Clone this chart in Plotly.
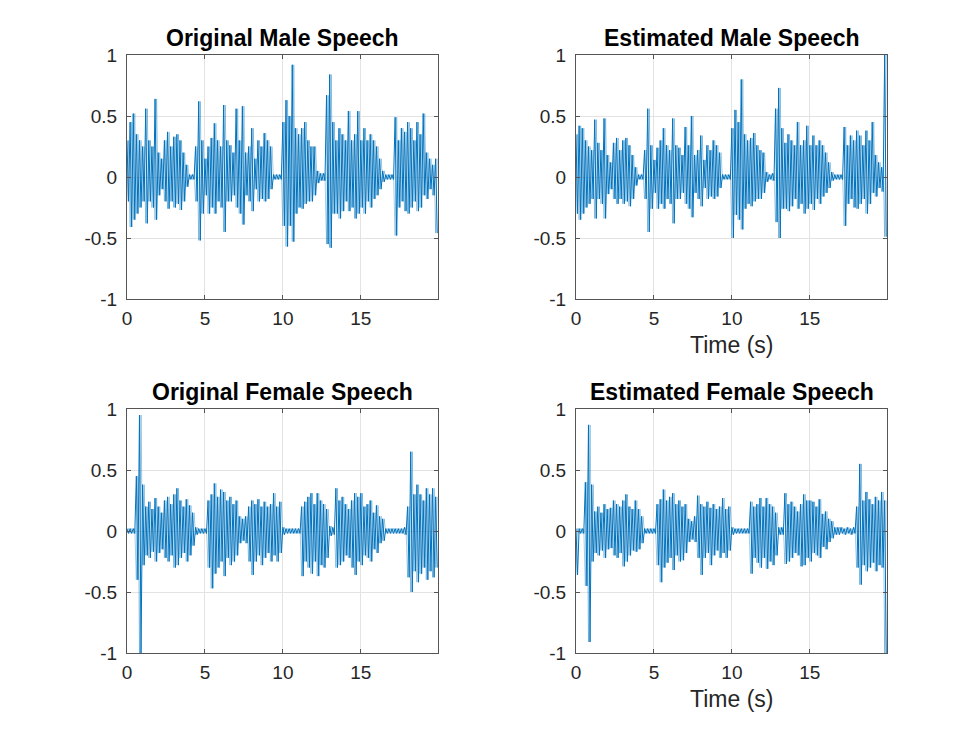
import numpy as np
import plotly.graph_objects as go

# time grid of the read-off peaks (s), one upper and one lower peak per 0.2 s window
t_start = np.round(np.arange(0, 20, 0.2), 2)

# ---- Original Male Speech ----
om_up = [0.30,0.45,0.52,0.35,0.30,0.25,0.56,0.30,0.25,0.64,
         0.20,0.15,0.30,0.37,0.25,0.33,0.35,0.30,0.20,0.10,
         0.02,0.02,0.25,0.62,0.30,0.15,0.25,0.32,0.44,0.30,
         0.25,0.59,0.30,0.26,0.20,0.56,0.30,0.58,0.20,0.25,
         0.40,0.15,0.30,0.25,0.36,0.30,0.25,0.02,0.02,0.02,
         0.45,0.63,0.50,0.92,0.40,0.35,0.40,0.45,0.30,0.25,
         0.25,0.05,0.03,0.03,0.67,0.84,0.45,0.30,0.40,0.35,
         0.30,0.54,0.30,0.35,0.54,0.30,0.40,0.30,0.35,0.30,
         0.25,0.15,0.05,0.02,0.02,0.02,0.49,0.30,0.40,0.37,
         0.45,0.40,0.30,0.45,0.35,0.52,0.20,0.15,0.10,0.15]
om_lo = [-0.20,-0.41,-0.35,-0.30,-0.25,-0.20,-0.38,-0.20,-0.25,-0.35,
         -0.15,-0.10,-0.20,-0.26,-0.20,-0.25,-0.22,-0.27,-0.20,-0.08,
         -0.02,-0.02,-0.20,-0.52,-0.30,-0.15,-0.30,-0.25,-0.30,-0.20,
         -0.25,-0.45,-0.20,-0.20,-0.15,-0.25,-0.30,-0.39,-0.15,-0.20,
         -0.28,-0.10,-0.20,-0.18,-0.20,-0.18,-0.10,-0.02,-0.02,-0.02,
         -0.40,-0.57,-0.40,-0.53,-0.30,-0.25,-0.26,-0.22,-0.20,-0.20,
         -0.15,-0.05,-0.03,-0.03,-0.55,-0.58,-0.30,-0.30,-0.34,-0.28,
         -0.20,-0.28,-0.25,-0.34,-0.30,-0.25,-0.30,-0.20,-0.25,-0.18,
         -0.15,-0.10,-0.04,-0.02,-0.02,-0.02,-0.48,-0.25,-0.20,-0.28,
         -0.30,-0.25,-0.20,-0.28,-0.25,-0.15,-0.18,-0.10,-0.15,-0.46]

# ---- Estimated Male Speech ----
em_up = [0.35,0.42,0.40,0.30,0.25,0.22,0.47,0.28,0.22,0.48,
         0.18,0.12,0.28,0.32,0.22,0.30,0.32,0.26,0.18,0.08,
         0.02,0.02,0.22,0.56,0.26,0.14,0.24,0.30,0.40,0.26,
         0.22,0.48,0.26,0.24,0.18,0.41,0.26,0.50,0.18,0.22,
         0.34,0.14,0.26,0.22,0.30,0.26,0.20,0.02,0.02,0.02,
         0.40,0.55,0.45,0.80,0.35,0.30,0.32,0.36,0.26,0.22,
         0.20,0.04,0.02,0.03,0.56,0.73,0.40,0.28,0.35,0.30,
         0.26,0.45,0.26,0.30,0.42,0.26,0.34,0.26,0.30,0.26,
         0.20,0.12,0.04,0.02,0.02,0.02,0.41,0.26,0.34,0.30,
         0.38,0.34,0.26,0.38,0.30,0.45,0.18,0.12,0.08,1.00]
em_lo = [-0.30,-0.35,-0.30,-0.25,-0.22,-0.18,-0.34,-0.18,-0.22,-0.34,
         -0.14,-0.10,-0.18,-0.22,-0.18,-0.22,-0.20,-0.24,-0.18,-0.07,
         -0.02,-0.02,-0.18,-0.45,-0.26,-0.13,-0.26,-0.22,-0.26,-0.18,
         -0.22,-0.38,-0.18,-0.18,-0.13,-0.22,-0.26,-0.33,-0.13,-0.18,
         -0.24,-0.09,-0.18,-0.16,-0.18,-0.16,-0.09,-0.02,-0.02,-0.02,
         -0.50,-0.31,-0.35,-0.43,-0.26,-0.22,-0.24,-0.20,-0.18,-0.18,
         -0.13,-0.04,-0.02,-0.03,-0.37,-0.50,-0.26,-0.26,-0.28,-0.24,
         -0.18,-0.26,-0.22,-0.30,-0.26,-0.22,-0.27,-0.18,-0.22,-0.16,
         -0.13,-0.09,-0.03,-0.02,-0.02,-0.02,-0.40,-0.22,-0.18,-0.25,
         -0.26,-0.22,-0.18,-0.30,-0.22,-0.13,-0.16,-0.09,-0.12,-0.49]

# ---- Original Female Speech ----
of_up = [0.02,0.02,0.02,0.45,0.95,0.38,0.20,0.24,0.18,0.27,
         0.20,0.15,0.25,0.28,0.22,0.30,0.35,0.25,0.20,0.26,
         0.21,0.15,0.03,0.02,0.02,0.02,0.25,0.30,0.39,0.28,
         0.34,0.32,0.25,0.28,0.22,0.25,0.12,0.10,0.12,0.20,
         0.25,0.22,0.26,0.20,0.24,0.20,0.22,0.31,0.20,0.24,
         0.03,0.02,0.02,0.02,0.02,0.02,0.20,0.24,0.28,0.31,
         0.22,0.31,0.25,0.22,0.18,0.04,0.03,0.35,0.25,0.28,
         0.22,0.18,0.25,0.31,0.28,0.31,0.20,0.22,0.25,0.15,
         0.21,0.12,0.10,0.02,0.02,0.02,0.02,0.02,0.02,0.03,
         0.20,0.65,0.30,0.38,0.30,0.25,0.35,0.30,0.35,0.28]
of_lo = [-0.02,-0.02,-0.02,-0.40,-1.00,-0.28,-0.20,-0.22,-0.17,-0.25,
         -0.18,-0.15,-0.22,-0.25,-0.20,-0.30,-0.28,-0.22,-0.18,-0.25,
         -0.20,-0.12,-0.03,-0.02,-0.02,-0.02,-0.30,-0.47,-0.35,-0.30,
         -0.25,-0.37,-0.22,-0.28,-0.25,-0.20,-0.10,-0.08,-0.10,-0.25,
         -0.36,-0.25,-0.20,-0.28,-0.22,-0.18,-0.25,-0.20,-0.25,-0.18,
         -0.03,-0.02,-0.02,-0.02,-0.02,-0.02,-0.37,-0.25,-0.30,-0.35,
         -0.25,-0.37,-0.28,-0.30,-0.22,-0.04,-0.03,-0.30,-0.28,-0.25,
         -0.20,-0.22,-0.30,-0.36,-0.25,-0.28,-0.20,-0.22,-0.25,-0.15,
         -0.18,-0.10,-0.08,-0.02,-0.02,-0.02,-0.02,-0.02,-0.02,-0.03,
         -0.38,-0.50,-0.33,-0.42,-0.35,-0.30,-0.40,-0.33,-0.38,-0.30]

# ---- Estimated Female Speech ----
ef_up = [0.02,0.02,0.02,0.40,0.87,0.38,0.16,0.20,0.15,0.22,
         0.18,0.19,0.25,0.22,0.20,0.25,0.30,0.20,0.18,0.25,
         0.18,0.12,0.02,0.02,0.02,0.02,0.22,0.26,0.34,0.25,
         0.28,0.31,0.22,0.25,0.20,0.22,0.10,0.08,0.12,0.29,
         0.22,0.20,0.24,0.19,0.22,0.18,0.20,0.27,0.18,0.20,
         0.03,0.02,0.02,0.02,0.02,0.02,0.24,0.20,0.22,0.27,
         0.20,0.27,0.22,0.20,0.15,0.03,0.03,0.31,0.22,0.24,
         0.20,0.16,0.22,0.30,0.25,0.25,0.24,0.20,0.26,0.14,
         0.16,0.10,0.08,0.03,0.03,0.03,0.02,0.03,0.02,0.03,
         0.20,0.55,0.25,0.32,0.26,0.22,0.28,0.25,0.32,0.25]
ef_lo = [-0.36,-0.02,-0.02,-0.45,-0.91,-0.25,-0.18,-0.20,-0.16,-0.22,
         -0.15,-0.14,-0.20,-0.22,-0.18,-0.29,-0.25,-0.20,-0.16,-0.17,
         -0.15,-0.10,-0.02,-0.02,-0.02,-0.02,-0.28,-0.42,-0.30,-0.26,
         -0.22,-0.32,-0.20,-0.25,-0.24,-0.18,-0.09,-0.07,-0.09,-0.22,
         -0.36,-0.22,-0.18,-0.28,-0.20,-0.16,-0.22,-0.18,-0.22,-0.16,
         -0.03,-0.02,-0.02,-0.02,-0.02,-0.02,-0.35,-0.22,-0.26,-0.30,
         -0.22,-0.31,-0.25,-0.28,-0.20,-0.03,-0.03,-0.27,-0.25,-0.22,
         -0.18,-0.20,-0.29,-0.28,-0.22,-0.25,-0.18,-0.20,-0.22,-0.13,
         -0.15,-0.09,-0.06,-0.03,-0.03,-0.02,-0.03,-0.02,-0.03,-0.02,
         -0.30,-0.44,-0.28,-0.33,-0.30,-0.26,-0.33,-0.28,-0.30,-1.00]

titles = ["Original Male Speech", "Estimated Male Speech",
          "Original Female Speech", "Estimated Female Speech"]
x_ticks = [0, 5, 10, 15]
y_ticks = [-1, -0.5, 0, 0.5, 1]
y_tick_text = ["-1", "-0.5", "0", "0.5", "1"]
x_label = "Time (s)"


def interleave(first, second):
    xs, ys = [], []
    for t0, a, b in zip(t_start, first, second):
        xs += [t0, t0 + 0.1]
        ys += [a, b]
    return xs, ys

W, H = 980, 735
doms_x = [(127 / W, 438 / W), (576 / W, 887 / W)]
doms_y = [(1 - 299 / H, 1 - 55 / H), (1 - 653 / H, 1 - 409 / H)]

series = [(om_up, om_lo), (em_up, em_lo), (of_up, of_lo), (ef_up, ef_lo)]

fig = go.Figure()
FONT = "Liberation Sans, Arial, sans-serif"
ax_col = "#262626"
annotations = []
for k, (up, lo) in enumerate(series):
    r, c = divmod(k, 2)
    idx = "" if k == 0 else str(k + 1)
    # the same peaks drawn down->up (faint) and up->down (solid) inside each window
    for first, second, col, w in ((lo, up, "rgba(0,114,189,0.45)", 0.8),
                                  (up, lo, "#0072BD", 1.0)):
        xs, ys = interleave(first, second)
        fig.add_trace(go.Scatter(x=xs, y=ys, mode="lines",
                                 line=dict(color=col, width=w),
                                 xaxis="x" + idx, yaxis="y" + idx,
                                 showlegend=False, hoverinfo="skip"))
    common = dict(showline=True, linecolor="#555555", linewidth=1, mirror="ticks",
                  ticks="inside", ticklen=4, tickcolor="#555555",
                  showgrid=True, gridcolor="#e3e3e3", gridwidth=1,
                  zeroline=False, automargin=False,
                  tickfont=dict(family=FONT, size=19, color=ax_col))
    xa = dict(common, domain=doms_x[c], range=[0, 19.95], tickvals=x_ticks,
              anchor="y" + idx, ticklabelstandoff=2)
    ya = dict(common, domain=doms_y[r], range=[-1, 1], tickvals=y_ticks,
              ticktext=y_tick_text, anchor="x" + idx, ticklabelstandoff=5)
    fig.update_layout(**{"xaxis" + idx: xa, "yaxis" + idx: ya})
    annotations.append(dict(text="<b>" + titles[k] + "</b>", xref="paper", yref="paper",
                            x=(doms_x[c][0] + doms_x[c][1]) / 2, y=doms_y[r][1],
                            xanchor="center", yanchor="bottom", yshift=2, showarrow=False,
                            font=dict(family=FONT, size=23, color="black")))
    if c == 1:
        annotations.append(dict(text=x_label, xref="paper", yref="paper",
                                x=(doms_x[c][0] + doms_x[c][1]) / 2, y=doms_y[r][0],
                                xanchor="center", yanchor="middle", yshift=-46,
                                showarrow=False,
                                font=dict(family=FONT, size=23, color=ax_col)))

fig.update_layout(width=W, height=H, margin=dict(l=0, r=0, t=0, b=0),
                  paper_bgcolor="white", plot_bgcolor="white",
                  annotations=annotations)
fig.write_html("out.html")
